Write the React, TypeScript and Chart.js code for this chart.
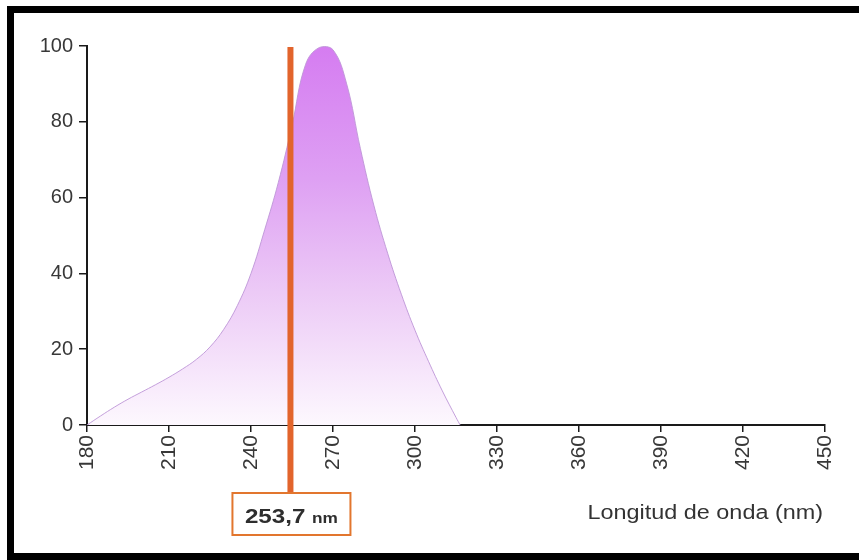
import React, { useEffect, useRef } from "react";
import { Chart, registerables } from "chart.js";

Chart.register(...registerables);

const wavelengths = [180, 185, 190, 195, 200, 205, 210, 215, 220, 225, 230, 235, 240, 245, 250, 255, 260, 265, 270, 275, 280, 285, 290, 295, 300, 305, 310, 315, 316.5];
const intensity = [0, 2.4, 4.7, 6.8, 8.7, 10.6, 12.6, 14.8, 17.3, 20.6, 25.2, 31.5, 40, 51.5, 64, 79, 95.2, 99.6, 99, 90, 73, 57.8, 45.3, 34.5, 25, 16.7, 9, 2, 0];
const xTicks = [180, 210, 240, 270, 300, 330, 360, 390, 420, 450];
const yTicks = [0, 20, 40, 60, 80, 100];
const markerWavelength = 253.7;
const markerLabel = "253,7";
const markerUnit = "nm";
const xTitle = "Longitud de onda (nm)";

const FONT = "'Liberation Sans', Arial, Helvetica, sans-serif";

const overlayPlugin = {
  id: "overlay",
  afterDatasetsDraw(chart: any) {
    const ctx = chart.ctx;
    const xs = chart.scales.x;
    const ys = chart.scales.y;
    const lx = xs.getPixelForValue(markerWavelength) + 2;
    const top = ys.getPixelForValue(100) + 1;
    const boxTop = 493;
    const boxBottom = 535;
    ctx.save();
    // vertical marker line
    ctx.strokeStyle = "#e2642c";
    ctx.lineWidth = 6;
    ctx.beginPath();
    ctx.moveTo(lx, top);
    ctx.lineTo(lx, boxTop);
    ctx.stroke();
    // label box
    const bl = lx - 58;
    const br = lx + 60;
    ctx.fillStyle = "#ffffff";
    ctx.fillRect(bl, boxTop, br - bl, boxBottom - boxTop);
    ctx.strokeStyle = "#e2762e";
    ctx.lineWidth = 2;
    ctx.strokeRect(bl, boxTop, br - bl, boxBottom - boxTop);
    // label text (slightly stretched horizontally)
    const sx = 1.15;
    ctx.fillStyle = "#2e2e2e";
    ctx.textBaseline = "alphabetic";
    ctx.textAlign = "left";
    ctx.font = `bold 21px ${FONT}`;
    const w1 = ctx.measureText(markerLabel + " ").width;
    ctx.font = `bold 15px ${FONT}`;
    const w2 = ctx.measureText(markerUnit).width;
    const total = (w1 + w2) * sx;
    const startX = (bl + br) / 2 - total / 2;
    const baseY = 523;
    ctx.translate(startX, baseY);
    ctx.scale(sx, 1);
    ctx.font = `bold 21px ${FONT}`;
    ctx.fillText(markerLabel + " ", 0, 0);
    ctx.font = `bold 15px ${FONT}`;
    ctx.fillText(markerUnit, w1, 0);
    ctx.restore();

    // axis title
    ctx.save();
    ctx.fillStyle = "#333333";
    ctx.font = `20px ${FONT}`;
    ctx.textAlign = "right";
    ctx.textBaseline = "middle";
    ctx.translate(823, 513);
    ctx.scale(1.17, 1);
    ctx.fillText(xTitle, 0, 0);
    ctx.restore();
  },
};

export default function App() {
  const ref = useRef<HTMLCanvasElement | null>(null);

  useEffect(() => {
    const canvas = ref.current;
    if (!canvas) return;
    const chart = new Chart(canvas, {
      type: "line",
      data: {
        datasets: [
          {
            data: wavelengths.map((w, i) => ({ x: w, y: intensity[i] })),
            borderColor: "rgba(190,150,215,0.9)",
            borderWidth: 1,
            pointRadius: 0,
            tension: 0.4,
            fill: "origin",
            backgroundColor: (c: any) => {
              const area = c.chart.chartArea;
              if (!area) return "rgba(220,150,240,0.5)";
              const g = c.chart.ctx.createLinearGradient(0, area.top, 0, area.bottom);
              g.addColorStop(0, "#d57cf1");
              g.addColorStop(0.35, "#dea0f3");
              g.addColorStop(0.65, "#eccaf6");
              g.addColorStop(1, "#fdf8fe");
              return g;
            },
          },
        ],
      },
      options: {
        responsive: false,
        animation: false,
        events: [],
        layout: { padding: { top: 46, right: 34, left: 0, bottom: 0 } },
        plugins: { legend: { display: false }, tooltip: { enabled: false } },
        scales: {
          x: {
            type: "linear",
            min: 180,
            max: 450,
            afterFit: (s: any) => {
              s.height = 135;
            },
            afterBuildTicks: (s: any) => {
              s.ticks = xTicks.map((v) => ({ value: v }));
            },
            border: { display: true, color: "#1a1a1a", width: 2 },
            grid: { drawOnChartArea: false, drawTicks: true, tickLength: 7, color: "#1a1a1a", lineWidth: 1.5 },
            ticks: {
              minRotation: 90,
              maxRotation: 90,
              padding: 3,
              color: "#383838",
              font: { family: FONT, size: 21 },
              autoSkip: false,
            },
          },
          y: {
            type: "linear",
            min: 0,
            max: 100,
            afterFit: (s: any) => {
              s.width = 87;
            },
            afterBuildTicks: (s: any) => {
              s.ticks = yTicks.map((v) => ({ value: v }));
            },
            border: { display: true, color: "#1a1a1a", width: 2 },
            grid: { drawOnChartArea: false, drawTicks: true, tickLength: 8, color: "#1a1a1a", lineWidth: 1.5 },
            ticks: {
              padding: 6,
              color: "#383838",
              font: { family: FONT, size: 20 },
            },
          },
        },
      },
      plugins: [overlayPlugin],
    } as any);
    return () => chart.destroy();
  }, []);

  return (
    <>
      <div
        style={{
          position: "absolute",
          left: 7,
          top: 6,
          width: 852,
          height: 554,
          boxSizing: "border-box",
          borderStyle: "solid",
          borderColor: "#000",
          borderWidth: "7px 0 7px 7px",
          background: "#fff",
        }}
      />
      <canvas
        ref={ref}
        width={859}
        height={560}
        style={{ position: "absolute", left: 0, top: 0, width: 859, height: 560 }}
      />
    </>
  );
}
